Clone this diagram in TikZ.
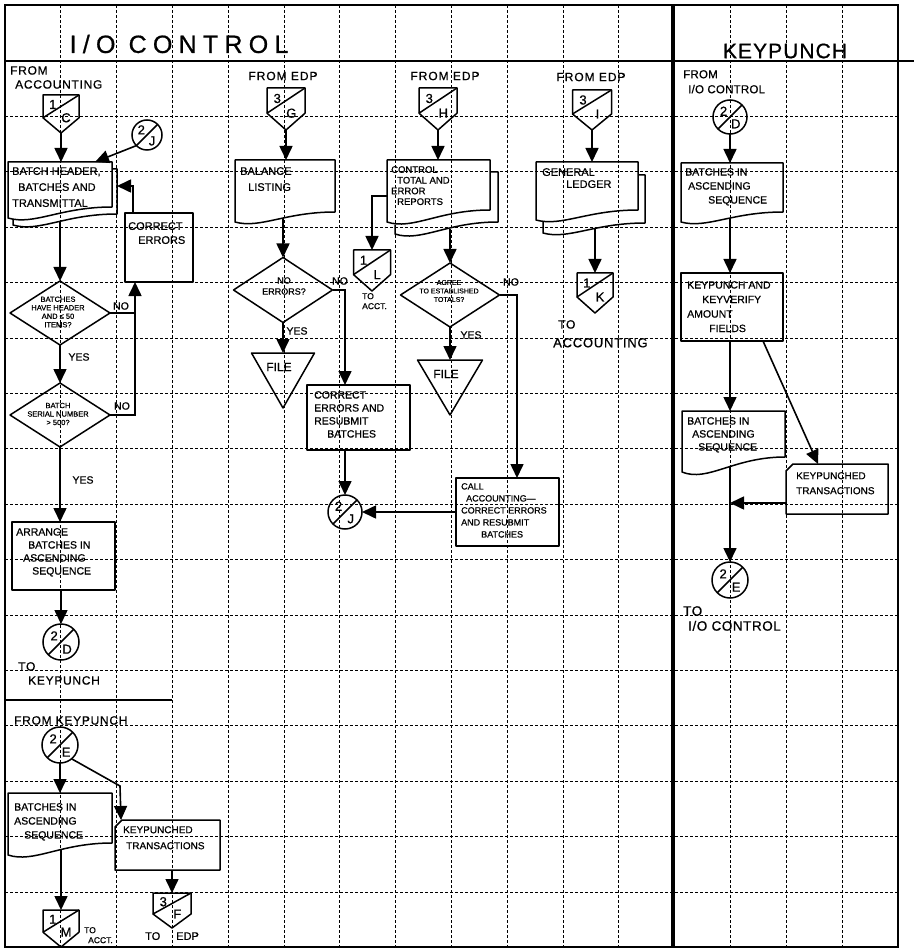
\documentclass[tikz,border=0pt]{standalone}
\usepackage{fontspec}
\setmainfont{Liberation Sans}[FakeBold=0.7]
\usetikzlibrary{arrows.meta,calc,shapes.geometric}
\newcommand{\fsz}[2]{\fontsize{#1}{#2}\selectfont}
% off-page connector: name, cx, top, width, height, upper, lower
\newcommand{\offpg}[7]{%
 \node[hid, minimum width=#4pt, minimum height=#5pt, anchor=north] (#1) at (#2,#3) {};
 \draw[shp] (#1.north west) -- (#1.north east) -- ($(#1.north east)+(0,{0.6*#5})$) -- (#1.south) -- ($(#1.north west)+(0,{0.6*#5})$) -- cycle;
 \draw[shp] ($(#1.north west)+(0,{0.6*#5})$) -- (#1.north east);
 \node[cfont] (#1-u) at ($(#1.north west)+({0.27*#4},{0.25*#5})$) {#6};
 \node[cfont] (#1-l) at ($(#1.north east)+({-0.36*#4},{0.6*#5})$) {#7};
}
% on-page connector: name, x, y, size, upper, lower
\newcommand{\conn}[6]{%
 \node[circle, draw, line width=1.5pt, minimum size=#4pt, inner sep=0pt, outer sep=0pt] (#1) at (#2,#3) {};
 \draw[shp] (#1.225) -- (#1.45);
 \node[cfont] (#1-u) at ($(#1.center)+({-0.19*#4},{-0.17*#4})$) {#5};
 \node[cfont] (#1-l) at ($(#1.center)+({0.17*#4},{0.2*#4})$) {#6};
}
% document: name, x1, x2, top, yR, yL, ox, oy
\newcommand{\docu}[8]{%
 \pgfmathsetmacro{\myW}{#3-#2}%
 \pgfmathsetmacro{\myH}{#5+#8+0.6*(#6-#5)-#4}%
 \node[hid, minimum width=\myW pt, minimum height=\myH pt, anchor=north] (#1) at ({(#2+#3)/2},#4) {};
 \draw[shp] (#2,#4) -- (#3,#4) -- (#3,#5) .. controls ({#2+0.5*(#3-#2)},#5) and ({#2+0.25*(#3-#2)},{#6+0.7*(#6-#5)}) .. (#2,#6) -- cycle;
 \ifdim #7pt>0pt
 \draw[shp] (#3,{#4+#8}) -- ({#3+#7},{#4+#8}) -- ({#3+#7},{#5+#8}) .. controls ({#2+#7+0.5*(#3-#2)},{#5+#8}) and ({#2+#7+0.25*(#3-#2)},{#6+#8+0.7*(#6-#5)}) .. ({#2+#7},{#6+#8}) -- ({#2+#7},{#6+2.8*#7*(#6-#5)/(#3-#2)});
 \fi
}
% punched card: name, x1, x2, top, bottom
\newcommand{\card}[5]{%
 \pgfmathsetmacro{\myW}{#3-#2}\pgfmathsetmacro{\myH}{#5-#4}%
 \node[hid, minimum width=\myW pt, minimum height=\myH pt, anchor=north west] (#1) at (#2,#4) {};
 \draw[shp] ($(#1.north west)+(7,0)$) -- (#1.north east) -- (#1.south east) -- (#1.south west) -- ($(#1.north west)+(0,7)$) -- cycle;
}
% file (merge) triangle: name, cx, top, width, height
\newcommand{\filetri}[5]{%
 \node[hid, minimum width=#4pt, minimum height=#5pt, anchor=north] (#1) at (#2,#3) {};
 \draw[shp] (#1.north west) -- (#1.north east) -- (#1.south) -- cycle;
}
\begin{document}
\begin{tikzpicture}[x=1pt,y=-1pt,
 hid/.style={inner sep=0pt, outer sep=0pt},
 shp/.style={draw, line width=1.5pt, line join=round},
 ln/.style={line width=1.6pt},
 arr/.style={line width=1.6pt, -{Triangle[length=14pt,width=13pt]}},
 gridl/.style={line width=0.9pt, dash pattern=on 3pt off 2pt},
 box/.style={shp, rectangle, inner sep=0pt, outer sep=0pt, anchor=north west},
 dia/.style={shp, diamond, inner sep=0pt, outer sep=0pt},
 cfont/.style={inner sep=0pt, font=\fsz{13}{13}},
 btxt/.style={inner sep=0pt, anchor=north west, align=left, font=\fsz{10.5}{14}},
 stxt/.style={inner sep=0pt, align=center, font=\fsz{7.5}{8.5}},
 stxtb/.style={inner sep=0pt, anchor=north west, align=left, font=\fsz{8.5}{10}},
 ytxt/.style={inner sep=0pt, font=\fsz{10.5}{10.5}},
 ftxt/.style={inner sep=0pt, font=\fsz{12}{12}},
 lbl/.style={inner sep=0pt, anchor=north west, align=left, font=\fsz{12}{14}\addfontfeatures{LetterSpace=6}},
 lblc/.style={inner sep=0pt, font=\fsz{12}{14}\addfontfeatures{LetterSpace=8}}]
\useasboundingbox (0,0) rectangle (914,949);
% grid
\foreach \k in {1,2,3,4,5,6,7,8,9,10,11,13,14,15}
  \draw[gridl] ({5+55.8*\k},5) -- ({5+55.8*\k},947);
\foreach \j in {1,...,15}
  \draw[gridl] (5,{61+55.4*\j}) -- (898,{61+55.4*\j});
% frame
\draw[line width=1.5pt] (5,5) rectangle (898,947);
\draw[line width=1.8pt] (5,61) -- (914,61);
\draw[line width=4.5pt] (673,5) -- (673,947);
\draw[line width=1.5pt] (5,700) -- (172,700);
% titles
\node[inner sep=0pt, font=\fsz{25}{25}\addfontfeatures{LetterSpace=25}] (title1) at (179,44) {I/O CONTROL};
\node[inner sep=0pt, font=\fsz{21}{21}\addfontfeatures{LetterSpace=5}] (title2) at (785,51) {KEYPUNCH};

% ---------- column 1 ----------
\node[lbl] (fromacc) at (10,66) {FROM\\\hspace{5pt}ACCOUNTING};
\offpg{oc}{61}{95}{36}{38}{1}{C}
\docu{hdr}{8}{112}{162}{207}{218}{5}{7}
\draw[arr] (oc.south) -- (oc.south |- hdr.north);
\node[btxt, font=\fsz{11}{16}] (hdrt) at (12,167) {BATCH HEADER,\\\hspace{6pt}BATCHES AND\\TRANSMITTAL};
\conn{cj}{147}{135}{30}{2}{J}
\draw[arr] (cj.225) -- ($(hdr.north east)+(-17,0)$);
\node[box, minimum width=68pt, minimum height=69pt] (ce) at (125,213) {};
\node[btxt, font=\fsz{11}{14}] (cet) at (128,222) {CORRECT\\\hspace{10pt}ERRORS};
\draw[arr] ($(ce.north west)+(8,0)$) |- ($(hdr.north east)+(5,24)$);
\node[dia, minimum width=100pt, minimum height=64pt] (d1) at (60,313) {};
\node[stxt] (d1t) at (58,312) {BATCHES\\HAVE HEADER\\AND ≤ 50\\ITEMS?};
\draw[arr] (d1.north |- hdr.south) -- (d1.north);
\coordinate (j1) at (135,313);
\draw[arr] (d1.east) -- (j1) -- (j1 |- ce.south);
\node[ytxt] (no1) at (121,306) {NO};
\node[ytxt] (yes1) at (79,357) {YES};
\node[dia, minimum width=100pt, minimum height=64pt] (d2) at (60,415) {};
\node[stxt] (d2t) at (58,414) {BATCH\\SERIAL NUMBER\\> 500?};
\draw[arr] (d1.south) -- (d2.north);
\draw[ln] (d2.east) -| (j1);
\node[ytxt] (no2) at (122,406) {NO};
\node[ytxt] (yes2) at (83,480) {YES};
\node[box, minimum width=103pt, minimum height=68pt] (ab) at (12,522) {};
\node[btxt, font=\fsz{10.5}{13}] (abt) at (16,528) {ARRANGE\\\hspace{12pt}BATCHES IN\\\hspace{7pt}ASCENDING\\\hspace{16pt}SEQUENCE};
\draw[arr] (d2.south) -- (d2.south |- ab.north);
\conn{cd}{61}{642}{36}{2}{D}
\draw[arr] (cd.north |- ab.south) -- (cd.north);
\node[lbl] (tokp) at (18,662) {TO\\\hspace{10pt}KEYPUNCH};

% ---------- bottom left ----------
\node[lbl] (fromkp) at (14,716) {FROM KEYPUNCH};
\conn{cE}{60}{745}{36}{2}{E}
\docu{bld}{8}{112}{793}{843}{855}{0}{0}
\draw[arr] (cE.south) -- (cE.south |- bld.north);
\node[btxt, font=\fsz{10.5}{14}] (bldt) at (14,803) {BATCHES IN\\ASCENDING\\\hspace{10pt}SEQUENCE};
\card{kc1}{115}{220}{820}{870}
\coordinate (bend1) at (120,786);
\draw[arr] (cE.-50) -- (bend1) -- ($(kc1.north west)+(6,0)$);
\node[btxt, font=\fsz{10}{16}] (kc1t) at (123,826) {KEYPUNCHED\\\hspace{3pt}TRANSACTIONS};
\offpg{om}{61}{910}{36}{37}{1}{M}
\draw[arr] (om.north |- bld.south) -- (om.north);
\node[stxtb] (toacct) at (84,927) {TO\\\hspace{4pt}ACCT.};
\offpg{of}{172}{893}{38}{35}{3}{F}
\draw[arr] (of.north |- kc1.south) -- (of.north);
\node[lbl, font=\fsz{11}{11}] (toedp) at (145,932) {TO\hspace{16pt}EDP};

% ---------- column 2: balance listing ----------
\node[lblc] (fe1) at (283,76) {FROM EDP};
\offpg{og}{286}{88}{38}{42}{3}{G}
\docu{bal}{235}{335}{160}{212}{222}{0}{0}
\draw[arr] (og.south) -- (og.south |- bal.north);
\node[btxt, font=\fsz{11}{16}] (balt) at (240,167) {BALANCE\\\hspace{8pt}LISTING};
\node[dia, minimum width=99pt, minimum height=65pt] (d3) at (283,290) {};
\draw[arr] (d3.north |- bal.south) -- (d3.north);
\node[stxt, font=\fsz{9}{11}] (d3t) at (284,286) {NO\\ERRORS?};
\node[ytxt] (no3) at (340,281) {NO};
\node[box, minimum width=103pt, minimum height=65pt] (cr) at (307,385) {};
\draw[arr] (d3.east) -| ($(cr.north west)+(38,0)$);
\node[ytxt] (yes3) at (297,331) {YES};
\filetri{f1}{283}{353}{63}{55}
\draw[arr] (d3.south) -- (d3.south |- f1.north);
\node[ftxt] (f1t) at (279,367) {FILE};
\node[btxt, font=\fsz{10.5}{13}] (crt) at (314,391) {CORRECT\\ERRORS AND\\RESUBMIT\\\hspace{13pt}BATCHES};
\conn{cj2}{345}{512}{34}{2}{J}
\draw[arr] (cj2.north |- cr.south) -- (cj2.north);

% ---------- column 3: control totals ----------
\node[lblc] (fe2) at (445,76) {FROM EDP};
\offpg{oh}{438}{88}{38}{42}{3}{H}
\docu{ctl}{387}{490}{160}{210}{222}{8}{12}
\draw[arr] (oh.south) -- (oh.south |- ctl.north);
\node[btxt, font=\fsz{9.5}{10.7}] (ctlt) at (391,166) {CONTROL\\\hspace{6pt}TOTAL AND\\ERROR\\\hspace{6pt}REPORTS};
\offpg{ol}{372}{250}{37}{41}{1}{L}
\draw[arr] ($(ctl.north west)+(0,36)$) -| (ol.north);
\node[stxtb] (toacct2) at (362,293) {TO\\ACCT.};
\node[dia, minimum width=99pt, minimum height=64pt] (d4) at (450,295) {};
\draw[arr] (d4.north |- ctl.south) -- (d4.north);
\node[stxt, font=\fsz{7}{8.5}] (d4t) at (449,291) {AGREE\\TO ESTABLISHED\\TOTALS?};
\node[ytxt] (no4) at (511,282) {NO};
\node[box, minimum width=103pt, minimum height=68pt] (ca) at (456,478) {};
\draw[arr] (d4.east) -| ($(ca.north west)+(61,0)$);
\node[ytxt] (yes4) at (471,335) {YES};
\filetri{f2}{450}{360}{65}{55}
\draw[arr] (d4.south) -- (d4.south |- f2.north);
\node[ftxt] (f2t) at (446,374) {FILE};
\node[btxt, font=\fsz{9}{12}] (cat) at (461,483) {CALL\\\hspace{5pt}ACCOUNTING—\\CORRECT ERRORS\\AND RESUBMIT\\\hspace{20pt}BATCHES};
\draw[arr] (ca.west) -- (cj2.east);

% ---------- column 4: general ledger ----------
\node[lblc] (fe3) at (591,77) {FROM EDP};
\offpg{oi}{592}{90}{39}{40}{3}{I}
\docu{gl}{536}{638}{162}{210}{220}{7}{13}
\draw[arr] (oi.south) -- (oi.south |- gl.north);
\node[btxt, font=\fsz{11}{12}] (glt) at (542,168) {GENERAL\\\hspace{24pt}LEDGER};
\offpg{ok}{595}{273}{36}{40}{1}{K}
\draw[arr] (ok.north |- gl.south) -- (ok.north);
\node[lbl] (toacc) at (558,320) {TO};
\node[lbl, font=\fsz{13}{13}\addfontfeatures{LetterSpace=6}] (toacc2) at (553,338) {ACCOUNTING};

% ---------- keypunch ----------
\node[lbl, font=\fsz{11.5}{15}\addfontfeatures{LetterSpace=2}] (fromio) at (683,70) {FROM\\\hspace{5pt}I/O CONTROL};
\conn{kd}{730}{117}{34}{2}{D}
\docu{kp1}{681}{783}{163}{212}{222}{0}{0}
\draw[arr] (kd.south) -- (kd.south |- kp1.north);
\node[btxt, font=\fsz{10.5}{14}] (kp1t) at (685,168) {BATCHES IN\\\hspace{3pt}ASCENDING\\\hspace{23pt}SEQUENCE};
\node[box, minimum width=102pt, minimum height=68pt] (kv) at (681,273) {};
\draw[arr] (kd.south |- kp1.south) -- (kd.south |- kv.north);
\node[btxt, font=\fsz{10.5}{14.5}] (kvt) at (687,281) {KEYPUNCH AND\\\hspace{15pt}KEYVERIFY\\AMOUNT\\\hspace{22pt}FIELDS};
\docu{kp2}{682}{785}{411}{457}{472}{0}{0}
\draw[arr] (kd.south |- kv.south) -- (kd.south |- kp2.north);
\node[btxt, font=\fsz{10.5}{13}] (kp2t) at (687,417) {BATCHES IN\\\hspace{5pt}ASCENDING\\\hspace{11pt}SEQUENCE};
\card{kc2}{786}{888}{464}{514}
\draw[arr] ($(kv.south east)+(-20,0)$) -- ($(kc2.north west)+(32,0)$);
\node[btxt, font=\fsz{10}{15}] (kc2t) at (796,472) {KEYPUNCHED\\TRANSACTIONS};
\conn{ke}{730}{580}{36}{2}{E}
\draw[arr] (kd.south |- kp2.south) -- (ke.north);
\draw[arr] ($(kc2.south west)+(0,-11)$) -- ($(kc2.south west -| kd.south)+(0,-11)$);
\node[lbl, font=\fsz{13.5}{15}\addfontfeatures{LetterSpace=4}] (toio) at (683,606) {TO\\\hspace{5pt}I/O CONTROL};
\end{tikzpicture}
\end{document}
